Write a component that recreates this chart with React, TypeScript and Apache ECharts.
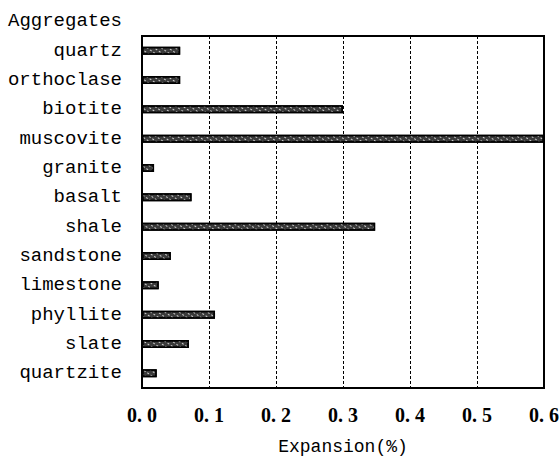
import React, { useEffect, useRef } from "react";
import * as echarts from "echarts";

const categories = [
  "quartz",
  "orthoclase",
  "biotite",
  "muscovite",
  "granite",
  "basalt",
  "shale",
  "sandstone",
  "limestone",
  "phyllite",
  "slate",
  "quartzite",
];
const expansion = [0.057, 0.057, 0.3, 0.6, 0.018, 0.074, 0.348, 0.043, 0.025, 0.109, 0.07, 0.022];
const xTicks = [0, 0.1, 0.2, 0.3, 0.4, 0.5, 0.6];

const FONT = "Liberation Mono";
const TICK_FONT = "Liberation Serif";

export default function App() {
  const ref = useRef<HTMLDivElement>(null);
  useEffect(() => {
    if (!ref.current) return;
    const chart = echarts.init(ref.current, undefined, { renderer: "svg" });
    chart.setOption({
      animation: false,
      backgroundColor: "#fff",
      title: {
        text: "Aggregates",
        left: 3,
        top: 6,
        textStyle: { fontFamily: FONT, fontSize: 19, fontWeight: "normal", color: "#000" },
      },
      grid: {
        left: 142,
        right: 16,
        top: 36,
        bottom: 74,
        containLabel: false,
        outerBoundsMode: "none",
        show: true,
        borderColor: "#000",
        borderWidth: 2,
        backgroundColor: "transparent",
      },
      xAxis: {
        type: "value",
        min: xTicks[0],
        max: xTicks[xTicks.length - 1],
        interval: 0.1,
        name: "Expansion(%)",
        nameLocation: "middle",
        nameGap: 50,
        nameTextStyle: { fontFamily: FONT, fontSize: 18, color: "#000" },
        axisLine: { show: true, lineStyle: { color: "#000", width: 2 } },
        axisTick: { show: false },
        axisLabel: {
          margin: 17,
          fontFamily: TICK_FONT,
          fontSize: 20,
          fontWeight: "bold",
          color: "#000",
          formatter: (v: number) => v.toFixed(1).replace(".", ". "),
        },
        splitLine: { show: true, lineStyle: { color: "#000", width: 1, type: [3, 2] } },
      },
      yAxis: {
        type: "category",
        data: categories,
        inverse: true,
        axisLine: { show: true, lineStyle: { color: "#000", width: 2 } },
        axisTick: { show: false },
        axisLabel: {
          margin: 20,
          fontFamily: FONT,
          fontSize: 19,
          color: "#000",
        },
        splitLine: { show: false },
      },
      series: [
        {
          type: "bar",
          data: expansion,
          barWidth: 8,
          itemStyle: {
            color: "#3a3a3a",
            borderColor: "#000",
            borderWidth: 1.5,
            decal: {
              symbol: "rect",
              color: "rgba(255,255,255,0.75)",
              dashArrayX: [2, 2],
              dashArrayY: [1, 3],
              rotation: 0.6,
              symbolSize: 1,
            },
          },
        },
      ],
    });
    return () => chart.dispose();
  }, []);
  return (
    <div
      ref={ref}
      style={{ position: "absolute", left: 0, top: 0, width: 560, height: 462 }}
    />
  );
}
